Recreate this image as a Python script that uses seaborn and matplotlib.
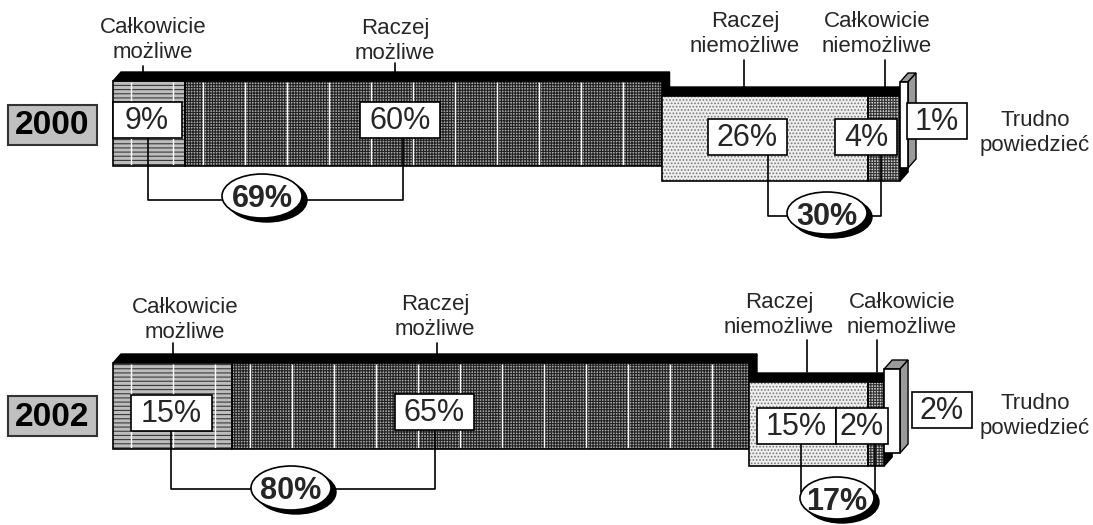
import matplotlib
matplotlib.use("Agg")
import matplotlib.pyplot as plt
import seaborn as sns
from matplotlib.patches import Polygon, Rectangle, Ellipse

# survey answers, share of respondents in %
years = ["2000", "2002"]
categories = ["Całkowicie\nmożliwe", "Raczej\nmożliwe", "Raczej\nniemożliwe",
              "Całkowicie\nniemożliwe", "Trudno\npowiedzieć"]
values_2000 = [9, 60, 26, 4, 1]
values_2002 = [15, 65, 15, 2, 2]
value_labels_2000 = ["9%", "60%", "26%", "4%", "1%"]
value_labels_2002 = ["15%", "65%", "15%", "2%", "2%"]
series = {"2000": values_2000, "2002": values_2002}
value_labels = {"2000": value_labels_2000, "2002": value_labels_2002}

sns.set_theme(style="white")
plt.rcParams['font.family'] = ['Liberation Sans', 'DejaVu Sans']
plt.rcParams['hatch.linewidth'] = 0.8

W, H = 1093, 525
X0, SCALE = 113, 7.95      # pixel of 0 %, pixels per 1 %
DX, DY = 8 / SCALE, 9      # 3d depth

fig = plt.figure(figsize=(W / 100, H / 100), dpi=100)
ax = fig.add_axes([0, 0, 1, 1])
ax.set_xlim(-X0 / SCALE, (W - X0) / SCALE)
ax.set_ylim(H, 0)
ax.axis('off')


def px(x):
    return (x - X0) / SCALE


# vertical layout of each bar (pixels): top of main block, lower block, column
rows = {
    "2000": dict(main=(81, 166), low=(96, 181), col=(82, 168), year=(105, 145)),
    "2002": dict(main=(363, 449), low=(382, 466), col=(369, 453), year=(396, 436)),
}

# segment styles: face colour, hatch, hatch colour
styles = [
    ("#bdbdbd", "----", "#3a3a3a"),
    ("#a8a8a8", "++++++", "#222222"),
    ("#eeeeee", ".....", "#7a7a7a"),
    ("#cfcfcf", "++++++", "#333333"),
    ("white", None, "black"),
]

# label positions (pixels): (x centre, y centre, box width)
box_pos = {
    "2000": [(147, 120, 69), (400, 120, 80), (747, 137, 79), (866, 137, 62), (937, 121, 60)],
    "2002": [(171, 413, 81), (434, 412, 79), (796, 426, 79), (862, 426, 52), (942, 410, 60)],
}
cat_pos = {
    "2000": [(153, 40, 143, 66, 72), (395, 41, 395, 63, 72), (745, 34, 744, 60, 87),
             (877, 34, 885, 60, 87), (1035, 133, None, 0, 0)],
    "2002": [(185, 320, 173, 343, 355), (435, 317, 437, 343, 355), (779, 315, 807, 340, 372),
             (902, 315, 877, 340, 372), (1035, 416, None, 0, 0)],
}
# brackets: (x left, x right, y box bottom, y line, ellipse x, ellipse y, w, h, text y)
brackets = {
    "2000": [(148, 403, 138, 200, 262, 196, 80, 44, 199),
             (768, 881, 155, 216, 827, 213, 80, 42, 217)],
    "2002": [(171, 435, 431, 489, 291, 488, 80, 44, 491),
             (801, 875, 444, 492, 837, 498, 74, 42, 502)],
}


def block3d(left, right, top, bottom, color, zo):
    tf = Polygon([(left, top), (left + DX, top - DY), (right + DX, top - DY), (right, top)],
                 closed=True, facecolor=color, edgecolor="black", lw=1, zorder=zo)
    sf = Polygon([(right, top), (right + DX, top - DY), (right + DX, bottom - DY), (right, bottom)],
                 closed=True, facecolor=color, edgecolor="black", lw=1, zorder=zo)
    ax.add_patch(tf)
    ax.add_patch(sf)


def front(i, left, width, top, bottom, zo):
    fc, hatch, hc = styles[i]
    yc, h = (top + bottom) / 2, bottom - top
    ax.barh(yc, width, left=left, height=h, color=fc, hatch=hatch, edgecolor=hc,
            linewidth=0, zorder=zo + 0.1)
    ax.barh(yc, width, left=left, height=h, fill=False, edgecolor="black",
            linewidth=1.2, zorder=zo + 0.2)
    if i in (0, 1):  # white vertical stripes of the pattern
        xs = left * SCALE + X0 + 18
        while xs < (left + width) * SCALE + X0 - 6:
            ax.vlines(px(xs), top + 1, bottom - 1, color="white", lw=1.0, zorder=zo + 0.15)
            xs += 42


for year in years:
    vals = series[year]
    r = rows[year]
    lefts = [sum(vals[:i]) for i in range(len(vals))]

    t, b = r["main"]
    block3d(0, lefts[2], t, b, "black", 2)
    front(0, lefts[0], vals[0], t, b, 2)
    front(1, lefts[1], vals[1], t, b, 2)

    t, b = r["low"]
    block3d(lefts[2], lefts[4], t, b, "black", 3)
    front(2, lefts[2], vals[2], t, b, 3)
    front(3, lefts[3], vals[3], t, b, 3)

    t, b = r["col"]
    block3d(lefts[4], lefts[4] + vals[4], t, b, "#9a9a9a", 4)
    front(4, lefts[4], vals[4], t, b, 4)

    # year box
    yt, yb = r["year"]
    ax.add_patch(Rectangle((px(8), yt), 89 / SCALE, yb - yt, facecolor="#c0c0c0",
                           edgecolor="#333333", lw=1.5, zorder=5))
    ax.text(px(52.5), (yt + yb) / 2 + 1, year, ha="center", va="center",
            fontsize=24, fontweight="bold", color="black", zorder=6)

    # category labels with leader lines
    for cat, (cx, cy, lx, l0, l1) in zip(categories, cat_pos[year]):
        ax.text(px(cx), cy, cat, ha="center", va="center", fontsize=16,
                linespacing=1.2, zorder=6)
        if lx is not None:
            ax.plot([px(lx), px(lx)], [l0, l1], color="black", lw=1.2, zorder=6)

    # brackets with summed values
    sums = [sum(vals[:2]), sum(vals[2:4])]
    for s, (xl, xr, yb0, yl, ex, ey, ew, eh, ty) in zip(sums, brackets[year]):
        ax.plot([px(xl), px(xl), px(xr), px(xr)], [yb0, yl, yl, yb0],
                color="black", lw=1.2, zorder=6)
        ax.add_patch(Ellipse((px(ex + 5), ey + 4), ew / SCALE, eh, facecolor="black",
                             edgecolor="black", zorder=7))
        ax.add_patch(Ellipse((px(ex), ey), ew / SCALE, eh, facecolor="white",
                             edgecolor="black", lw=1.2, zorder=7.5))
        ax.text(px(ex), ty, f"{s}%", ha="center", va="center", fontsize=22,
                fontweight="bold", zorder=8)

    # value boxes
    for lab, (bx, by, bw) in zip(value_labels[year], box_pos[year]):
        ax.add_patch(Rectangle((px(bx - bw / 2), by - 18), bw / SCALE, 36,
                               facecolor="white", edgecolor="black", lw=1.2, zorder=9))
        ax.text(px(bx), by + 1, lab, ha="center", va="center", fontsize=22, zorder=10)

fig.savefig("out.png", dpi=100)
